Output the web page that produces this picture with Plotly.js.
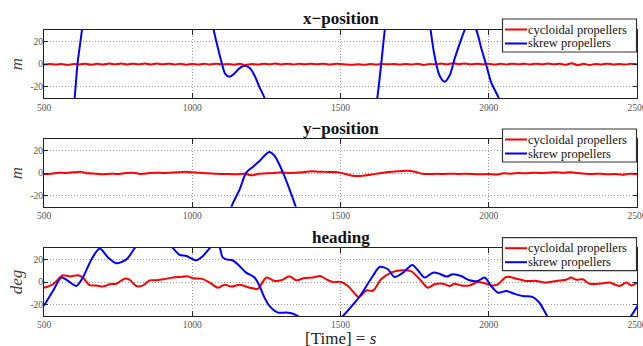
<!DOCTYPE html>
<html>
<head>
<meta charset="utf-8">
<script src="https://cdn.plot.ly/plotly-3.0.1.min.js"></script>
<style>
  html, body { margin: 0; padding: 0; background: #fff; }
  #chart { width: 643px; height: 346px; }
</style>
</head>
<body>
<div id="chart"></div>
<script>
// ---- x-position [m] ----
const tXCyc = [500,520,540,560,580,600,620,640,660,680,700,720,740,760,780,800,820,840,860,880,
  900,920,940,960,980,1000,1020,1040,1060,1080,1100,1120,1140,1160,1180,1200,1220,1240,1260,1280,
  1300,1320,1340,1360,1380,1400,1420,1440,1460,1480,1500,1520,1540,1560,1580,1600,1620,1640,1660,1680,
  1700,1720,1740,1760,1780,1800,1820,1840,1860,1880,1900,1920,1940,1960,1980,2000,2020,2040,2060,2080,
  2100,2120,2140,2160,2180,2200,2220,2240,2260,2280,2300,2320,2340,2360,2380,2400,2420,2440,2460,2480,2500];
const xCyc = [-0.3,0.2,-0.4,0.1,-0.7,0.2,-0.3,0.4,-0.5,0.3,-0.4,0.5,-0.2,0.6,-0.3,0.4,-0.2,0.6,-0.3,0.5,
  -0.2,0.4,-0.3,0.3,-0.5,0.2,-0.4,0.3,-0.3,0.4,-0.3,0.2,-0.6,0.3,-0.8,0.1,-0.4,0.3,-0.2,0.5,
  -0.3,0.4,-0.3,0.3,-0.2,0.4,-0.1,0.4,-0.3,0.2,0.1,-0.3,-0.5,-0.2,-0.6,0.1,-0.3,0.2,-0.2,0.2,
  -0.4,0.2,-0.3,0.3,-0.7,0.2,-0.2,0.5,-0.2,0.8,-0.1,0.6,-0.2,0.4,-0.2,0.3,-0.4,0.3,-0.3,0.4,
  -0.2,0.3,-0.3,0.4,-0.2,0.5,-0.2,0.4,-0.5,0.7,-0.9,0.3,-0.7,0.2,-0.3,0.4,-0.3,0.2,-0.3,0.3,-0.1];
const tXSkr = [560,590,603,613,628,645,700,850,1000,1050,1073,1087,1101,1111,1124,1137,1160,1177,1194,1210,
  1227,1244,1265,1350,1450,1560,1605,1624,1637,1649,1665,1730,1790,1804,1817,1834,1851,1868,1885,1902,
  1919,1938,1958,1975,1992,2008,2019,2034,2050,2100];
const xSkr = [-130,-62,-31,0,30,70,150,220,150,70,29.3,13.7,-0.5,-8.5,-11,-9.5,-3.5,-1.5,-3.5,-10,
  -20.4,-30,-55,-120,-150,-120,-60,-30,-0.5,29.3,60,100,60,30,7.7,-10,-15.4,-10,4.8,18,
  30,38,30,13.7,-1.2,-16,-22,-30,-45,-90];

// ---- y-position [m] ----
const tYCyc = [500,525,550,575,600,625,650,675,700,725,750,775,800,825,850,875,900,925,950,975,
  1000,1025,1050,1075,1100,1125,1150,1175,1200,1225,1250,1275,1300,1325,1350,1375,1400,1425,1450,1475,
  1500,1525,1550,1575,1600,1625,1650,1675,1700,1725,1750,1775,1800,1825,1850,1875,1900,1925,1950,1975,
  2000,2025,2050,2075,2100,2125,2150,2175,2200,2225,2250,2275,2300,2325,2350,2375,2400,2425,2450,2475,2500];
const yCyc = [-0.9,-0.6,0.3,0,0.6,1.0,-0.3,-0.6,-1.2,-0.6,-0.9,0,0.3,-0.9,-0.3,0.3,0,0.3,0.6,1.0,
  0.6,0.3,-0.3,-0.6,-0.9,-0.9,-1.2,-0.6,-2.1,-0.6,-0.3,0,0.6,0,0.3,0.6,1.5,1.2,1.0,0.9,
  0.3,-1.5,-2.7,-2.5,-1.5,-0.5,0.5,1.2,1.6,1.9,1.2,-0.6,-0.9,-0.7,-0.9,-0.6,-0.9,-0.6,-0.9,-1.2,
  -1.0,-1.4,-0.3,-0.6,0,-0.3,0.3,0,0.3,0.6,0.3,0.6,0,-0.6,-0.9,-0.6,-1.2,-0.9,-1.5,-0.6,-0.9];
const tYSkr = [1100,1132,1160,1182,1205,1227,1259,1278,1306,1328,1349,1380];
const ySkr = [-60,-30,-14.5,0.3,5.6,10.7,18.7,15.1,0.3,-14.5,-30,-60];

// ---- heading [deg] ----
const tHCyc = [500,530,564,587,615,631,654,677,699,721,744,772,789,811,834,856,879,901,935,957,
  986,1002,1031,1059,1087,1109,1132,1160,1194,1221,1233,1250,1278,1300,1328,1351,1379,1407,1432,1452,
  1474,1503,1525,1541,1562,1587,1609,1637,1671,1705,1739,1767,1795,1817,1845,1868,1885,1907,1935,1963,
  1986,2008,2031,2059,2093,2126,2160,2194,2228,2261,2278,2295,2317,2340,2374,2407,2441,2464,2481,2500];
const hCyc = [-5,-2,6,5,6,4,-2.7,-3,-4,-2,-1.5,3,2,-3.5,-3,1.5,1.5,2.4,4,4.5,
  5,3.3,3,-0.5,-5,-2.3,-4,-2.5,-5,-6,-2,4,1,1.5,5,1.5,3.6,4,5.3,2.4,
  0,0,-3.5,-8,-13.3,-7.4,-7.7,2.4,8.3,10.4,9.5,2.4,-5,-2,-1.5,-3.5,-1.5,-3,-3,0,
  -1,-3,-2,4.5,3,1,1,-0.5,1,2,4,2,2.4,-1.5,-1.5,-0.5,-3.5,-0.5,-3,-0.5];
const tHSkr = [500,530,559,581,609,631,660,688,716,744,778,806,830,870,910,935,957,980,1014,1036,
  1059,1076,1093,1102,1115,1137,1160,1182,1210,1227,1244,1261,1289,1317,1340,1356,1400,1460,1508,1542,
  1564,1609,1632,1660,1682,1711,1742,1761,1784,1812,1834,1857,1879,1907,1935,1963,1986,2008,2031,2059,
  2087,2115,2149,2171,2194,2220,2300,2420,2480,2503];
const hSkr = [-21,-8,4,1,-3.5,4,20,29.6,21.7,16.6,20,30,38,45,38,30,24,23,19.3,23,
  30,34,30,22,20,19,14,8.3,4,-3.5,-14,-21.3,-27,-27,-28,-30,-38,-40,-30,-20,
  -13,5.3,13.3,11.3,4.4,8.3,15,10.4,4,8.3,7.3,4.8,6.8,5.3,1.5,1,4,-3.5,-9.4,-8,
  -10.4,-12.4,-13.3,-18.3,-28.7,-40,-55,-50,-30,-20.5];

// ---- labels ----
const seriesNames = ['cycloidal propellers', 'skrew propellers'];
const panelTitles = ['x\u2212position', 'y\u2212position', 'heading'];
const unitLabels = ['m', 'm', 'deg'];
const xTickVals = [500, 1000, 1500, 2000, 2500];
const xTickText = ['500', '1000', '1500', '2000', '2500'];
const yTickVals = [-20, 0, 20];
const yTickText = ['-20', '0', '20'];

const RED = '#ff0000', BLUE = '#0000ff';
const COLORS = [RED, BLUE];
const SERIF = 'Liberation Serif, Times New Roman, serif';
const GRID = {showgrid: true, gridcolor: '#9a9a9a', griddash: '1px,2px', gridwidth: 1};

// plot box in pixels (margins below), used to place the per-panel key boxes
const W = 643, H = 346, ML = 44, MR = 6, MT = 30, MB = 30;
const PW = W - ML - MR, PH = H - MT - MB;
const px2x = p => (p - ML) / PW;
const px2y = p => (H - MB - p) / PH;

function line(t, v, name, color, ax) {
  const s = ax === 1 ? '' : String(ax);
  return {
    x: t, y: v, name: name, type: 'scatter', mode: 'lines',
    line: {color: color, width: 2, shape: 'spline', smoothing: 0.8},
    xaxis: 'x' + s, yaxis: 'y' + s, showlegend: false, hoverinfo: 'skip'
  };
}

const traces = [
  line(tXCyc, xCyc, seriesNames[0], RED, 1),
  line(tXSkr, xSkr, seriesNames[1], BLUE, 1),
  line(tYCyc, yCyc, seriesNames[0], RED, 2),
  line(tYSkr, ySkr, seriesNames[1], BLUE, 2),
  line(tHCyc, hCyc, seriesNames[0], RED, 3),
  line(tHSkr, hSkr, seriesNames[1], BLUE, 3)
];

function xAxis(anchor) {
  return Object.assign({
    anchor: anchor, range: [500, 2500], tickvals: xTickVals, ticktext: xTickText,
    ticks: 'inside', ticklen: 5, tickcolor: '#222', tickwidth: 1,
    showline: true, linecolor: '#222', linewidth: 1, mirror: 'ticks',
    zeroline: false, ticklabeloverflow: 'allow',
    tickfont: {family: SERIF, size: 9.5, color: '#555'}
  }, GRID);
}
function yAxis(anchor, domain, unit) {
  return Object.assign({
    anchor: anchor, domain: domain, range: [-30, 30], tickvals: yTickVals, ticktext: yTickText,
    ticks: 'inside', ticklen: 4, tickcolor: '#222', tickwidth: 1,
    showline: true, linecolor: '#222', linewidth: 1, mirror: 'ticks',
    zeroline: false, ticklabelstandoff: -2,
    tickfont: {family: SERIF, size: 9.5, color: '#555'},
    title: {text: '<i>' + unit + '</i>', font: {family: SERIF, size: 17, color: '#444'}, standoff: 3}
  }, GRID);
}

// key box for each panel: frame, two sample strokes, two labels
const shapes = [], annotations = [];
function addKey(topPx) {
  const x0 = 502.5, x1 = 636.5;
  shapes.push({type: 'rect', xref: 'paper', yref: 'paper', layer: 'above',
    x0: px2x(x0), x1: px2x(x1), y0: px2y(topPx + 33), y1: px2y(topPx),
    line: {color: '#333', width: 1.2}, fillcolor: '#ffffff'});
  [10.5, 24.5].forEach((dy, i) => {
    const yy = px2y(topPx + dy);
    shapes.push({type: 'line', xref: 'paper', yref: 'paper', layer: 'above',
      x0: px2x(505), x1: px2x(527), y0: yy, y1: yy, line: {color: COLORS[i], width: 2}});
    annotations.push({text: seriesNames[i], xref: 'paper', yref: 'paper',
      x: px2x(526), y: yy, xanchor: 'left', yanchor: 'middle', showarrow: false,
      font: {family: SERIF, size: 12.5, color: '#111'}});
  });
}
addKey(19); addKey(129); addKey(237.7);

function titleNote(text, py) {
  annotations.push({
    text: '<b>' + text + '</b>', xref: 'paper', yref: 'paper', x: 0.5, y: px2y(py),
    xanchor: 'center', yanchor: 'middle', showarrow: false,
    font: {family: SERIF, size: 17, color: '#111'}
  });
}
titleNote(panelTitles[0], 18);
titleNote(panelTitles[1], 128);
titleNote(panelTitles[2], 237);
annotations.push({text: '[Time] = <i>s</i>', xref: 'paper', yref: 'paper', x: 0.5, y: px2y(338),
  xanchor: 'center', yanchor: 'middle', showarrow: false,
  font: {family: SERIF, size: 17, color: '#222'}});

const layout = {
  width: W, height: H,
  margin: {l: ML, r: MR, t: MT, b: MB},
  paper_bgcolor: '#ffffff', plot_bgcolor: '#ffffff',
  showlegend: false,
  xaxis: xAxis('y'), xaxis2: xAxis('y2'), xaxis3: xAxis('y3'),
  yaxis: yAxis('x', [0.7614, 1], unitLabels[0]),
  yaxis2: yAxis('x2', [0.3818, 0.6182], unitLabels[1]),
  yaxis3: yAxis('x3', [0, 0.2375], unitLabels[2]),
  shapes: shapes,
  annotations: annotations
};

Plotly.newPlot('chart', traces, layout, {staticPlot: true, displayModeBar: false});
</script>
</body>
</html>
